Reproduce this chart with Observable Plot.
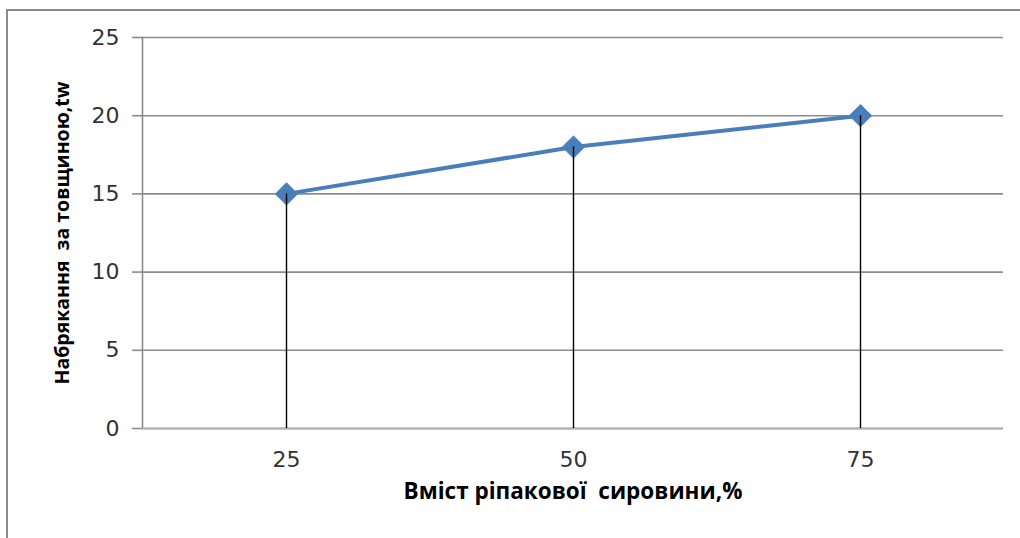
<!DOCTYPE html>
<html>
<head>
<meta charset="utf-8">
<script src="https://cdn.jsdelivr.net/npm/d3@7"></script>
<script src="https://cdn.jsdelivr.net/npm/@observablehq/plot@0.6"></script>
<style>
  html, body { margin: 0; padding: 0; background: #fff; overflow: hidden; }
  #wrap { position: relative; width: 1020px; height: 538px; }
  #border { position: absolute; left: 6px; top: 9px; width: 1030px; height: 540px; border: 2px solid #8a8a8a; box-sizing: border-box; }
  #chart { position: absolute; left: 0; top: 0; }
</style>
</head>
<body>
<div id="wrap"><div id="border"></div><div id="chart"></div></div>
<script>
const categories = ["25", "50", "75"];
const values = [15, 18, 20];
const yTicks = [0, 5, 10, 15, 20, 25];
const xTitle = "Вміст ріпакової  сировини,%";
const yTitle = "Набрякання  за товщиною,tw";

const data = categories.map((c, i) => ({x: c, y: values[i]}));

const tickFont = "'DejaVu Sans', sans-serif";

const chart = Plot.plot({
  width: 1020,
  height: 538,
  marginLeft: 142,
  marginRight: 17,
  marginTop: 37,
  marginBottom: 110,
  style: {fontFamily: tickFont, fontSize: "22px", color: "#333", background: "transparent"},
  x: {type: "point", domain: categories, padding: 0.5},
  y: {domain: [0, 25]},
  marks: [
    Plot.gridY(yTicks, {stroke: "#8c8c8c", strokeOpacity: 1, strokeWidth: 1.6}),
    Plot.axisY(yTicks, {tickSize: 10, tickPadding: 13, stroke: "#8c8c8c", strokeWidth: 1.6, label: null, fill: "#333"}),
    Plot.axisX({tickSize: 0, tickPadding: 23, label: null, fill: "#333"}),
    Plot.frame({anchor: "left", stroke: "#8c8c8c", strokeWidth: 1.6}),
    Plot.ruleY([0], {stroke: "#b0b0b0", strokeWidth: 2}),
    Plot.line(data, {x: "x", y: "y", stroke: "#4a7ebb", strokeWidth: 4}),
    Plot.dot(data, {x: "x", y: "y", symbol: "diamond2", r: 10, fill: "#4a7ebb", stroke: "#4a7ebb", strokeWidth: 1}),
    Plot.ruleX(data, {x: "x", y1: 0, y2: "y", stroke: "#000", strokeWidth: 1.4}),
    Plot.text([xTitle], {frameAnchor: "bottom", dy: 70, fontWeight: "bold", fontSize: 22.5, fill: "#000", fontFamily: "'Open Sans', sans-serif"}),
    Plot.text([yTitle], {frameAnchor: "left", textAnchor: "middle", dx: -80, rotate: -90, fontWeight: "bold", fontSize: 19.5, fill: "#000", fontFamily: "'Open Sans', sans-serif"})
  ]
});
document.getElementById("chart").appendChild(chart);
</script>
</body>
</html>
